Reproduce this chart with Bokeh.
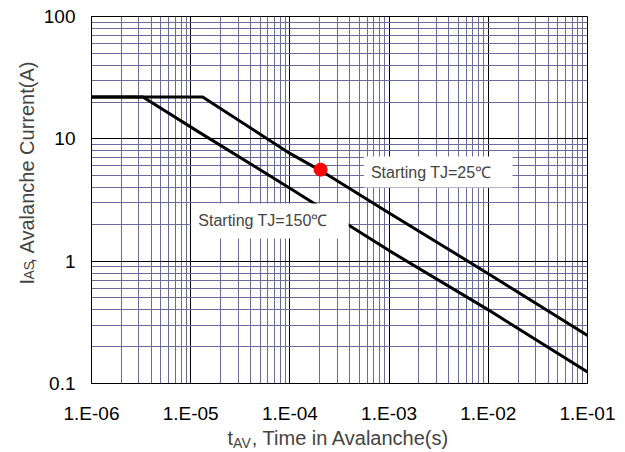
import math
from bokeh.plotting import figure
from bokeh.layouts import row, column
from bokeh.models import Range1d, FixedTicker, CustomJSTickFormatter, Label
from bokeh.embed import file_html
from bokeh.resources import INLINE

# ---- data ----
x_ticks = [1e-6, 1e-5, 1e-4, 1e-3, 1e-2, 1e-1]
x_tick_labels = ["1.E-06", "1.E-05", "1.E-04", "1.E-03", "1.E-02", "1.E-01"]
y_ticks = [0.1, 1, 10, 100]
y_tick_labels = ["0.1", "1", "10", "100"]

t_25 = [1e-6, 1.32e-5, 1e-4, 2.04e-4, 1e-3, 1e-2, 1e-1]
i_25 = [22, 22, 7.6, 5.5, 2.48, 0.79, 0.247]

t_150 = [1e-6, 3.3e-6, 1.2e-5, 1e-4, 1e-3, 1e-2, 1e-1]
i_150 = [22, 22, 11.4, 3.95, 1.22, 0.40, 0.124]

dot_t = [2.04e-4]
dot_i = [5.6]

label_25 = "Starting TJ=25℃"
label_150 = "Starting TJ=150℃"

# ---- layout (page pixels) ----
YW = 40                      # width of the y-title strip
W_MAIN, H_MAIN = 577, 426
BL, BT = 50, 16
FW, FH = 497, 368
BR, BB = W_MAIN - BL - FW, H_MAIN - BT - FH
XH = 26                      # height of the x-title strip
FONT = "Liberation Sans"
FX0 = YW + BL                # page x of frame left

x_minor = [m * 10 ** e for e in range(-6, -1) for m in range(2, 10)]
y_minor = [m * 10 ** e for e in range(-1, 2) for m in range(2, 10)]

p = figure(width=W_MAIN, height=H_MAIN, x_axis_type="log", y_axis_type="log",
           x_range=Range1d(1e-6, 1e-1), y_range=Range1d(0.1, 100),
           output_backend="svg", toolbar_location=None, title_location=None,
           min_border_left=BL, min_border_right=BR,
           min_border_top=BT, min_border_bottom=BB)
p.background_fill_color = "white"
p.border_fill_color = "white"
p.outline_line_color = "black"
p.outline_line_width = 1

xt = FixedTicker(ticks=x_ticks, minor_ticks=x_minor)
yt = FixedTicker(ticks=y_ticks, minor_ticks=y_minor)
p.xaxis.ticker = xt
p.yaxis.ticker = yt
p.xgrid.ticker = xt
p.ygrid.ticker = yt

fmt_code = """
for (let i = 0; i < tvals.length; i++) {
  if (Math.abs(Math.log10(tick) - Math.log10(tvals[i])) < 1e-6) return tlabels[i];
}
return "";
"""
p.xaxis.formatter = CustomJSTickFormatter(args=dict(tvals=x_ticks, tlabels=x_tick_labels), code=fmt_code)
p.yaxis.formatter = CustomJSTickFormatter(args=dict(tvals=y_ticks, tlabels=y_tick_labels), code=fmt_code)

for g in (p.xgrid, p.ygrid):
    g.grid_line_color = "black"
    g.grid_line_width = 1
    g.minor_grid_line_color = "#6b6b9b"
    g.minor_grid_line_width = 1

p.axis.axis_line_color = "black"
p.axis.major_tick_in = 7
p.axis.major_tick_out = 0
p.axis.major_tick_line_color = "black"
p.axis.minor_tick_in = 0
p.axis.minor_tick_out = 0
p.axis.major_label_text_font = FONT
p.axis.major_label_text_font_size = "19px"
p.axis.major_label_text_color = "black"
p.xaxis.major_label_standoff = 19
p.yaxis.major_label_standoff = 16

# curves
p.line(t_25, i_25, line_color="black", line_width=3)
p.line(t_150, i_150, line_color="black", line_width=3)
p.scatter(dot_t, dot_i, size=13, fill_color="red", line_color="red")

# helpers: page pixel -> data coordinate (for text annotations)
def dx(px):
    return 10 ** (-6 + (px - FX0) * 5 / FW)
def dy(py):
    return 10 ** (2 - (py - BT) * 3 / FH)

p.add_layout(Label(x=dx(363), y=dy(172), text=label_25, text_font=FONT,
                   text_font_size="16px", text_baseline="middle", text_align="left",
                   background_fill_color="white",
                   padding=dict(left=7, right=21, top=7, bottom=7)))
p.add_layout(Label(x=dx(190), y=dy(221), text=label_150, text_font=FONT,
                   text_font_size="16px", text_baseline="middle", text_align="left",
                   background_fill_color="white",
                   padding=dict(left=7, right=21, top=9, bottom=9)))


def strip(w, h):
    f = figure(width=w, height=h, x_range=Range1d(0, w), y_range=Range1d(0, h),
               output_backend="svg", toolbar_location=None, title_location=None,
               x_axis_location=None, y_axis_location=None,
               min_border=0, min_border_left=0, min_border_right=0,
               min_border_top=0, min_border_bottom=0)
    f.outline_line_color = None
    f.grid.visible = False
    f.background_fill_color = "white"
    f.border_fill_color = "white"
    return f

# y-axis title strip: IAS, Avalanche Current(A)
ys = strip(YW, H_MAIN)
ang = math.pi / 2
YB_BIG, YB_SMALL = 26, 28.5     # anchor x of the rotated baselines
ys.add_layout(Label(x=YB_BIG, y=H_MAIN - 311, text="I", angle=ang, text_font=FONT,
                    text_font_size="20px", text_baseline="alphabetic", text_align="left"))
ys.add_layout(Label(x=YB_SMALL, y=H_MAIN - 305.4, text="AS", angle=ang, text_font=FONT,
                    text_font_size="14px", text_baseline="alphabetic", text_align="left"))
ys.add_layout(Label(x=YB_BIG, y=H_MAIN - 286.7, text=", Avalanche Current(A)", angle=ang, text_font=FONT,
                    text_font_size="20px", text_baseline="alphabetic", text_align="left"))

# x-axis title strip: t_AV, Time in Avalanche(s)
XW = YW + W_MAIN
xs = strip(XW, XH)
top = H_MAIN
XB_BIG, XB_SMALL = 437, 442.5   # anchor page y of the baselines
xs.add_layout(Label(x=227, y=XH - (XB_BIG - top), text="t", text_font=FONT, text_font_size="20px",
                    text_baseline="alphabetic", text_align="left"))
xs.add_layout(Label(x=232.6, y=XH - (XB_SMALL - top), text="AV", text_font=FONT, text_font_size="14px",
                    text_baseline="alphabetic", text_align="left"))
xs.add_layout(Label(x=251.3, y=XH - (XB_BIG - top), text=", Time in Avalanche(s)", text_font=FONT,
                    text_font_size="20px", text_baseline="alphabetic", text_align="left"))

layout = column(row(ys, p, spacing=0), xs, spacing=0)

open("out.html", "w").write(file_html(layout, INLINE))
